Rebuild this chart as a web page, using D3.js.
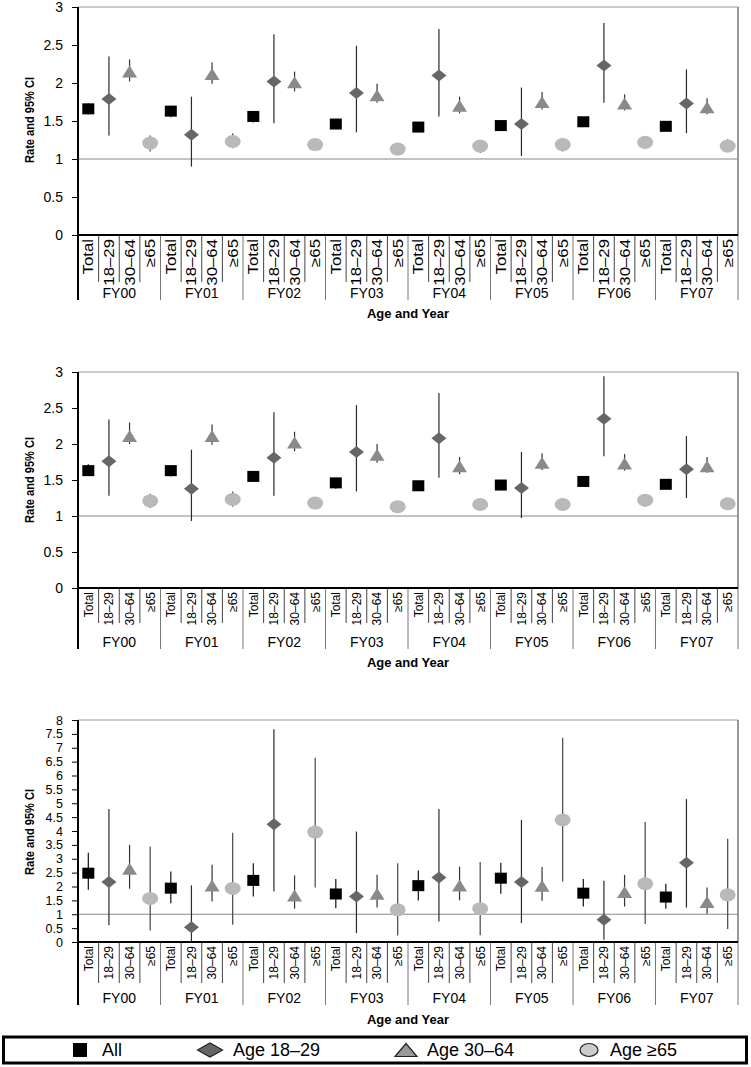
<!DOCTYPE html>
<html>
<head>
<meta charset="utf-8">
<script src="https://cdn.jsdelivr.net/npm/d3@7"></script>
<style>
  body { margin: 0; background: #fff; }
  svg { display: block; }
  text { font-family: "Liberation Sans", Arial, sans-serif; fill: #000; }
</style>
</head>
<body>
<svg id="chart" width="751" height="1067"></svg>
<script>
// categories
const years = ["FY00", "FY01", "FY02", "FY03", "FY04", "FY05", "FY06", "FY07"];
const ages = ["Total", "18–29", "30–64", "≥65"];

// [rate, lower CI, upper CI] per year -- panel 1
const p1Total = [[1.66,1.59,1.73],[1.63,1.55,1.70],[1.56,1.48,1.63],[1.46,1.40,1.52],[1.42,1.36,1.48],[1.44,1.38,1.50],[1.49,1.44,1.55],[1.43,1.37,1.49]];
const p1Age18 = [[1.79,1.31,2.35],[1.32,0.90,1.82],[2.02,1.47,2.64],[1.87,1.35,2.49],[2.10,1.56,2.71],[1.46,1.04,1.94],[2.23,1.74,2.79],[1.73,1.34,2.18]];
const p1Age30 = [[2.15,2.02,2.31],[2.12,1.99,2.27],[2.01,1.89,2.15],[1.84,1.74,1.99],[1.70,1.60,1.82],[1.75,1.65,1.88],[1.73,1.64,1.85],[1.68,1.59,1.80]];
const p1Age65 = [[1.21,1.10,1.31],[1.23,1.14,1.34],[1.19,1.12,1.26],[1.13,1.05,1.21],[1.17,1.08,1.25],[1.19,1.10,1.27],[1.22,1.13,1.30],[1.17,1.09,1.26]];

// panel 2
const p2Total = [[1.63,1.56,1.72],[1.63,1.55,1.71],[1.55,1.48,1.61],[1.46,1.38,1.51],[1.42,1.37,1.47],[1.43,1.38,1.47],[1.48,1.43,1.55],[1.44,1.38,1.49]];
const p2Age18 = [[1.76,1.28,2.34],[1.38,0.93,1.92],[1.81,1.28,2.44],[1.89,1.34,2.54],[2.08,1.53,2.71],[1.39,0.97,1.89],[2.35,1.83,2.94],[1.65,1.25,2.11]];
const p2Age30 = [[2.11,2.00,2.30],[2.11,1.99,2.27],[2.02,1.90,2.17],[1.85,1.74,2.00],[1.69,1.58,1.82],[1.74,1.64,1.87],[1.73,1.63,1.86],[1.69,1.60,1.82]];
const p2Age65 = [[1.21,1.11,1.31],[1.23,1.13,1.34],[1.18,1.10,1.26],[1.13,1.06,1.20],[1.16,1.09,1.24],[1.16,1.09,1.24],[1.22,1.13,1.30],[1.17,1.09,1.25]];

// panel 3
const p3Total = [[2.48,1.88,3.22],[1.94,1.40,2.54],[2.22,1.64,2.84],[1.73,1.22,2.27],[2.03,1.50,2.58],[2.30,1.74,2.86],[1.76,1.28,2.27],[1.62,1.20,2.10]];
const p3Age18 = [[2.16,0.60,4.79],[0.53,0.00,2.04],[4.24,1.82,7.67],[1.64,0.32,3.98],[2.32,0.74,4.79],[2.16,0.68,4.40],[0.80,0.08,2.21],[2.86,1.24,5.15]];
const p3Age30 = [[2.64,1.92,3.50],[2.04,1.46,2.78],[1.68,1.20,2.40],[1.74,1.24,2.42],[2.04,1.50,2.72],[2.03,1.49,2.70],[1.80,1.28,2.42],[1.44,1.02,1.96]];
const p3Age65 = [[1.57,0.41,3.44],[1.93,0.62,3.94],[3.96,1.96,6.64],[1.16,0.23,2.84],[1.20,0.24,2.88],[4.40,2.18,7.36],[2.10,0.65,4.32],[1.70,0.47,3.72]];

const legendLabels = ["All", "Age 18–29", "Age 30–64", "Age ≥65"];

const svg = d3.select("#chart");
const left = 78, right = 738;

const markStyle = [
  {shape: "square", fill: "#000", ci: "#111"},
  {shape: "diamond", fill: "#666", ci: "#2a2a2a"},
  {shape: "triangle", fill: "#8a8a8a", ci: "#333"},
  {shape: "ellipse", fill: "#b9b9b9", ci: "#444"}
];

function marker(g, shape, w, h) {
  if (shape == "square") {
    return g.append("rect").attr("x", -w/2).attr("y", -h/2).attr("width", w).attr("height", h);
  } else if (shape == "diamond") {
    return g.append("path").attr("d", `M${-w/2},0L0,${-h/2}L${w/2},0L0,${h/2}Z`);
  } else if (shape == "triangle") {
    return g.append("path").attr("d", `M${-w/2},${h/2}L0,${-h/2}L${w/2},${h/2}Z`);
  }
  return g.append("ellipse").attr("rx", w/2).attr("ry", h/2);
}

const keys = [];
years.forEach(y => ages.forEach(a => keys.push(y + "|" + a)));
const x = d3.scaleBand().domain(keys).range([left, right]);

function drawPanel(cfg) {
  const g = svg.append("g");
  const y = d3.scaleLinear().domain([0, cfg.max]).range([cfg.y0, cfg.top]);

  // top and right frame
  g.append("line").attr("x1", left).attr("x2", right).attr("y1", cfg.top).attr("y2", cfg.top)
    .attr("stroke", "#999").attr("stroke-width", 1.2);
  g.append("line").attr("x1", right).attr("x2", right).attr("y1", cfg.top).attr("y2", cfg.y0)
    .attr("stroke", "#555").attr("stroke-width", 1.2);
  // reference line at 1
  g.append("line").attr("x1", left).attr("x2", right).attr("y1", y(1)).attr("y2", y(1))
    .attr("stroke", "#888").attr("stroke-width", 1.2);

  // y axis
  const yAxis = g.append("g").attr("transform", `translate(${left},0)`)
    .call(d3.axisLeft(y).tickValues(d3.range(0, cfg.max + 0.01, 0.5)).tickSize(6).tickPadding(9).tickFormat(d => String(d)));
  yAxis.select(".domain").remove();
  yAxis.selectAll(".tick line").attr("stroke", "#000");
  yAxis.selectAll("text").attr("font-size", cfg.tickSize).attr("font-family", "Liberation Sans, Arial, sans-serif");

  g.append("text")
    .attr("transform", `translate(34,${cfg.titleMid}) rotate(-90)`)
    .attr("text-anchor", "middle")
    .attr("font-size", 13).attr("font-weight", "bold")
    .attr("textLength", 86).attr("lengthAdjust", "spacingAndGlyphs")
    .text("Rate and 95% CI");

  // x axis category block
  keys.forEach((k, i) => {
    const xl = x(k);
    if (i > 0) {
      const isGroup = i % 4 == 0;
      g.append("line").attr("x1", xl).attr("x2", xl)
        .attr("y1", cfg.y0).attr("y2", cfg.y0 + (isGroup ? cfg.sepLen : cfg.subLen))
        .attr("stroke", isGroup ? "#777" : "#444").attr("stroke-width", 1);
    }
    const cx = xl + x.bandwidth() / 2;
    g.append("text")
      .attr("transform", `translate(${cx + cfg.labelSize * 0.36},${cfg.y0 + 4}) rotate(-90) scale(${cfg.stretch},1)`)
      .attr("text-anchor", "end")
      .attr("font-size", cfg.labelSize)
      .text(k.split("|")[1]);
  });
  g.append("line").attr("x1", right).attr("x2", right).attr("y1", cfg.y0).attr("y2", cfg.y0 + cfg.sepLen)
    .attr("stroke", "#777");
  years.forEach(yr => {
    const x0 = x(yr + "|Total"), x1 = x(yr + "|≥65") + x.bandwidth();
    g.append("text").attr("x", (x0 + x1) / 2).attr("y", cfg.y0 + cfg.fyOff)
      .attr("text-anchor", "middle").attr("dominant-baseline", "central")
      .attr("font-size", 14).text(yr);
  });
  g.append("text").attr("x", 408).attr("y", cfg.axisTitleY)
    .attr("text-anchor", "middle").attr("dominant-baseline", "central")
    .attr("font-size", 13).attr("font-weight", "bold").text("Age and Year");

  // axes lines
  g.append("line").attr("x1", left).attr("x2", right).attr("y1", cfg.y0).attr("y2", cfg.y0)
    .attr("stroke", "#000").attr("stroke-width", 2);
  g.append("line").attr("x1", left).attr("x2", left).attr("y1", cfg.top).attr("y2", cfg.y0 + cfg.sepLen)
    .attr("stroke", "#000").attr("stroke-width", 2);

  // series
  cfg.series.forEach((arr, si) => {
    const st = markStyle[si];
    const pts = arr.map((d, i) => ({cx: x(years[i] + "|" + ages[si]) + x.bandwidth() / 2, v: d[0], lo: d[1], hi: d[2]}));
    g.selectAll(null).data(pts).join("line")
      .attr("x1", d => d.cx).attr("x2", d => d.cx)
      .attr("y1", d => y(d.lo)).attr("y2", d => y(d.hi))
      .attr("stroke", st.ci).attr("stroke-width", 1.2);
    pts.forEach(d => {
      const mg = g.append("g").attr("transform", `translate(${d.cx},${y(d.v)})`);
      const size = cfg.sizes[si];
      marker(mg, st.shape, size[0], size[1]).attr("fill", st.fill);
    });
  });
}

const sizes = [[12, 11], [15, 12], [15, 12], [16, 13]];

drawPanel({top: 7, y0: 235, max: 3, subLen: 47, sepLen: 65, fyOff: 58, axisTitleY: 313,
  titleMid: 120, labelSize: 14, stretch: 1.2, sizes: sizes, tickSize: 14,
  series: [p1Total, p1Age18, p1Age30, p1Age65]});
drawPanel({top: 372, y0: 588, max: 3, subLen: 35, sepLen: 61, fyOff: 54, axisTitleY: 662,
  titleMid: 480, labelSize: 12, stretch: 1.0, sizes: sizes, tickSize: 14,
  series: [p2Total, p2Age18, p2Age30, p2Age65]});
drawPanel({top: 720, y0: 942, max: 8, subLen: 41, sepLen: 63, fyOff: 56, axisTitleY: 1019,
  titleMid: 832, labelSize: 12, stretch: 1.0, sizes: sizes, tickSize: 12.5,
  series: [p3Total, p3Age18, p3Age30, p3Age65]});

// legend
const lg = svg.append("g");
lg.append("rect").attr("x", 3.5).attr("y", 1037).attr("width", 743).attr("height", 26)
  .attr("fill", "#fff").attr("stroke", "#000").attr("stroke-width", 3);
const legendItems = [
  {cx: 80, w: 14, h: 14, fill: "#000", textX: 102},
  {cx: 210, w: 25, h: 14, fill: "#666", textX: 233},
  {cx: 406, w: 22, h: 13, fill: "#999", textX: 427},
  {cx: 589, w: 18, h: 13, fill: "#ccc", textX: 610}
];
legendItems.forEach((it, i) => {
  const mg = lg.append("g").attr("transform", `translate(${it.cx},1050)`);
  marker(mg, markStyle[i].shape, it.w, it.h).attr("fill", it.fill)
    .attr("stroke", i == 0 ? "none" : "#222").attr("stroke-width", 1.2);
  lg.append("text").attr("x", it.textX).attr("y", 1050)
    .attr("dominant-baseline", "central").attr("font-size", 18)
    .text(legendLabels[i]);
});
</script>
</body>
</html>
